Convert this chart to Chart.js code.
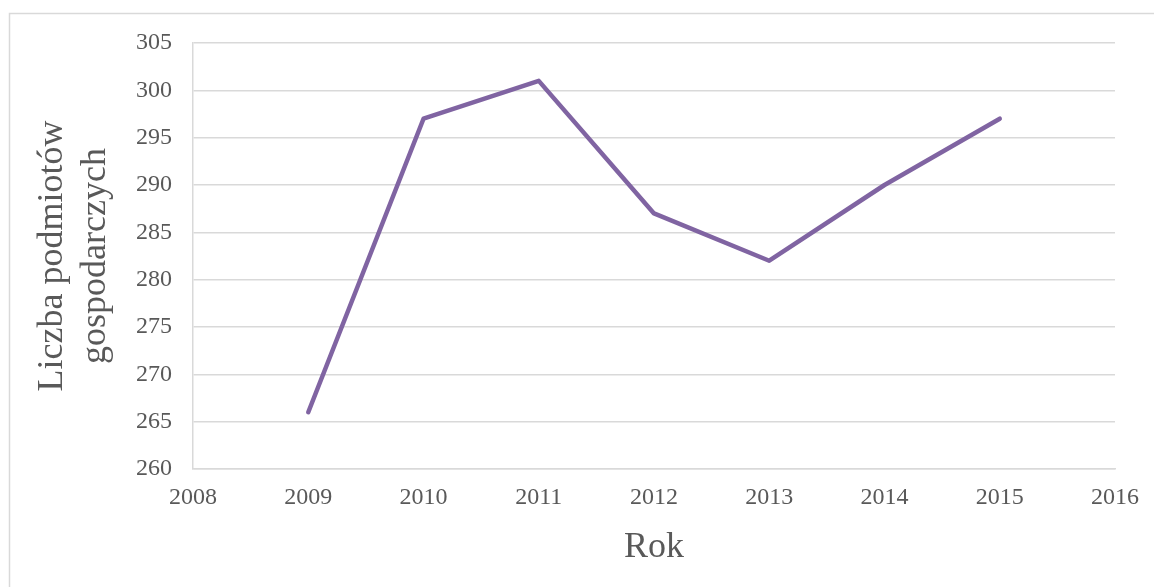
<!DOCTYPE html>
<html>
<head>
<meta charset="utf-8">
<script src="https://cdn.jsdelivr.net/npm/chart.js@4"></script>
<style>
  html, body { margin: 0; padding: 0; background: #fff; }
  #wrap { position: relative; width: 1154px; height: 587px; }
</style>
</head>
<body>
<div id="wrap"><canvas id="c" width="1154" height="587"></canvas></div>
<script>
const years = [2009, 2010, 2011, 2012, 2013, 2014, 2015];
const counts = [266, 297, 301, 287, 282, 290, 297];
const xAxisMin = 2008, xAxisMax = 2016;
const yAxisMin = 260, yAxisMax = 305, yStep = 5;
const xTitle = 'Rok';
const yTitle = ['Liczba podmiotów', 'gospodarczych'];

const frame = {
  id: 'frame',
  beforeDraw(chart) {
    const ctx = chart.ctx;
    ctx.save();
    ctx.fillStyle = '#fff';
    ctx.fillRect(0, 0, chart.width, chart.height);
    ctx.strokeStyle = '#d9d9d9';
    ctx.lineWidth = 1.5;
    ctx.strokeRect(9.5, 13.5, chart.width + 20, chart.height + 20);
    ctx.restore();
  }
};

const textColor = '#595959';
const gridColor = '#d9d9d9';

new Chart(document.getElementById('c'), {
  type: 'line',
  data: {
    datasets: [{
      data: years.map((y, i) => ({ x: y, y: counts[i] })),
      borderColor: '#8064a2',
      borderWidth: 4.5,
      borderCapStyle: 'round',
      borderJoinStyle: 'round',
      pointRadius: 0,
      fill: false,
      tension: 0
    }]
  },
  options: {
    responsive: false,
    animation: false,
    devicePixelRatio: 1,
    layout: { padding: { top: 43, right: 39, bottom: 0, left: 0 } },
    plugins: { legend: { display: false }, tooltip: { enabled: false } },
    scales: {
      x: {
        type: 'linear',
        min: xAxisMin, max: xAxisMax,
        afterFit: s => { s.height = 118; },
        grid: { display: false, drawTicks: false },
        border: { display: true, color: gridColor, width: 1.5 },
        ticks: {
          stepSize: 1, padding: 14, color: textColor, maxRotation: 0,
          font: { family: '"Liberation Serif", "Times New Roman", serif', size: 24 },
          callback: v => String(v)
        },
        title: {
          display: true, text: xTitle, color: textColor,
          font: { family: '"Liberation Serif", "Times New Roman", serif', size: 36, lineHeight: 1.2 },
          padding: { top: 0, bottom: 18 }
        }
      },
      y: {
        min: yAxisMin, max: yAxisMax,
        afterFit: s => { s.width = 193; },
        grid: { color: gridColor, lineWidth: 1.5, drawTicks: false },
        border: { display: true, color: gridColor, width: 1.5 },
        ticks: {
          stepSize: yStep, padding: 21, color: textColor,
          font: { family: '"Liberation Serif", "Times New Roman", serif', size: 24 }
        },
        title: {
          display: true, text: yTitle, color: textColor,
          font: { family: '"Liberation Serif", "Times New Roman", serif', size: 36, lineHeight: 1.2 },
          padding: { top: 31, bottom: 0 }
        }
      }
    }
  },
  plugins: [frame]
});
</script>
</body>
</html>
